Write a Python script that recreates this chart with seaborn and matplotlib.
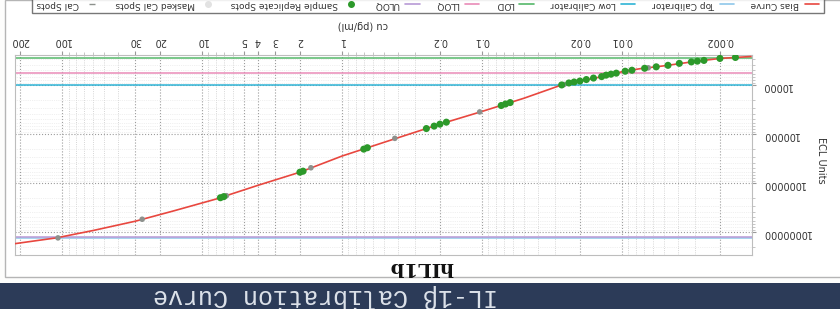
import matplotlib
matplotlib.use("Agg")
import matplotlib.pyplot as plt
from matplotlib.lines import Line2D
from matplotlib.patches import Rectangle
from matplotlib.ticker import FixedLocator, FixedFormatter, LogLocator, NullFormatter
import seaborn as sns
import pandas as pd

# fitted curve (conc pg/ml -> signal)
curve_conc = [0.0012, 0.002, 0.003, 0.005, 0.0075, 0.01, 0.015, 0.027, 0.05, 0.1, 0.2,
              0.4, 1.0, 2.0, 4.0, 8.0, 16, 30, 60, 110, 220]
curve_signal = [2630, 2880, 3310, 4070, 4680, 5370, 7080, 10000, 18600, 34700, 63100,
                120000, 282000, 603000, 1120000, 2140000, 3720000, 6030000, 9330000,
                13200000, 17400000]

# calibrator spots
cal_conc = [107, 26.8, 6.7, 1.67, 0.42, 0.104, 0.026, 0.0065]
cal_signal = [13200000, 5500000, 1820000, 490000, 123000, 35500, 9800, 4470]

# sample replicate spots
sample_conc = [0.00155, 0.002, 0.0026, 0.0029, 0.0032, 0.0039, 0.0047, 0.0057, 0.0069,
               0.0085, 0.0095, 0.011, 0.012, 0.013, 0.014, 0.016, 0.018, 0.020, 0.022,
               0.024, 0.027, 0.063, 0.068, 0.073, 0.18, 0.20, 0.22, 0.25, 0.66, 0.70,
               1.9, 2.0, 7.0, 7.4]
sample_signal = [2750, 2880, 3160, 3270, 3390, 3630, 3980, 4270, 4570, 5010, 5250, 5750,
                 6030, 6310, 6760, 7240, 7760, 8320, 8710, 9120, 10000, 22900, 24500,
                 26300, 57500, 63100, 69200, 77600, 191000, 204000, 575000, 603000,
                 1900000, 2000000]

# horizontal reference lines
ref_names = ["Top Calibrator", "Low Calibrator", "LOD", "LLOQ", "ULOQ"]
ref_values = [13300000, 9900, 2800, 5700, 12900000]
ref_colors = ["#8fc7ea", "#2fb4d6", "#55b86a", "#e98bb8", "#b89ad6"]

x_ticks = [0.002, 0.01, 0.02, 0.1, 0.2, 1, 2, 3, 4, 5, 10, 20, 30, 100, 200]
x_tick_labels = ["0.002", "0.01", "0.02", "0.1", "0.2", "1", "2", "3", "4", "5",
                 "10", "20", "30", "100", "200"]
y_ticks = [10000, 100000, 1000000, 10000000]
y_tick_labels = ["10000", "100000", "1000000", "10000000"]

sns.set_style("white")
plt.rcParams["font.family"] = ["DejaVu Sans"]

W, H = 840, 309
fig = plt.figure(figsize=(W / 100, H / 100), dpi=100, facecolor="#fdfdfc")

# outer panel + banner (picture is shown upside down)
fig.patches.append(Rectangle((5 / W, (H - 277) / H), 1, 277 / H, transform=fig.transFigure,
                             facecolor="#ffffff", edgecolor="#b5b5b5", lw=1.0, zorder=-5))
fig.patches.append(Rectangle((0, 0), 1, 26 / H, transform=fig.transFigure,
                             facecolor="#2c3b58", edgecolor="none", zorder=1))

ax = fig.add_axes([15 / W, 1 - 255 / H, (752 - 15) / W, (255 - 55) / H])
ax.set_zorder(2)
ax.set_xscale("log")
ax.set_yscale("log")

curve_df = pd.DataFrame({"conc": curve_conc, "signal": curve_signal})
cal_df = pd.DataFrame({"conc": cal_conc, "signal": cal_signal})
sample_df = pd.DataFrame({"conc": sample_conc, "signal": sample_signal})

for name, val, col in zip(ref_names, ref_values, ref_colors):
    ax.axhline(val, color=col, lw=1.1, zorder=2)

sns.lineplot(data=curve_df, x="conc", y="signal", color="#e8473f", lw=1.2, ax=ax,
             zorder=3, legend=False)
sns.scatterplot(data=cal_df, x="conc", y="signal", color="#8d918d", s=16, marker="o",
                edgecolor="none", ax=ax, zorder=4, legend=False)
sns.scatterplot(data=sample_df, x="conc", y="signal", color="#2c992a", s=26, marker="o",
                edgecolor="none", ax=ax, zorder=5, legend=False)

# upside-down axes
ax.set_xlim(217, 0.00118)
ax.set_ylim(2.95e7, 2450)
ax.xaxis.tick_top()
ax.yaxis.tick_right()
ax.xaxis.set_major_locator(FixedLocator(x_ticks))
ax.xaxis.set_major_formatter(FixedFormatter(x_tick_labels))
ax.xaxis.set_minor_locator(LogLocator(base=10, subs=range(2, 10), numticks=20))
ax.xaxis.set_minor_formatter(NullFormatter())
ax.yaxis.set_major_locator(FixedLocator(y_ticks))
ax.yaxis.set_major_formatter(FixedFormatter(y_tick_labels))
ax.yaxis.set_minor_locator(LogLocator(base=10, subs=range(2, 10), numticks=20))
ax.yaxis.set_minor_formatter(NullFormatter())
ax.tick_params(axis="both", which="major", labelsize=7, labelcolor="#333333",
               length=3, color="#999999", labelrotation=180)
ax.tick_params(axis="both", which="minor", length=2, color="#bbbbbb")
ax.tick_params(axis="y", pad=4)
for lab in ax.get_yticklabels():
    lab.set_ha("left")
ax.set_xlabel("")
ax.set_ylabel("")
ax.xaxis.grid(True, which="major", ls=":", color="#9c9c9c", lw=0.8)
ax.xaxis.grid(True, which="minor", ls=":", color="#c8c8c8", lw=0.6)
ax.yaxis.grid(True, which="major", ls=":", color="#9c9c9c", lw=0.8)
ax.yaxis.grid(True, which="minor", ls=":", color="#e2e2e2", lw=0.5)
for sp in ax.spines.values():
    sp.set_color("#bdbdbd")
    sp.set_linewidth(0.8)

fig.text(363 / W, 1 - 25 / H, "cu (pg/ml)", rotation=180, ha="center", va="center",
         fontsize=7, color="#333333")
fig.text(821 / W, 1 - 160 / H, "ECL Units", rotation=270, ha="center", va="center",
         fontsize=7, color="#333333")
fig.text(421 / W, 1 - 267 / H, "hIL1b", rotation=180, ha="center", va="center",
         fontsize=14, fontweight="bold", family="DejaVu Serif", color="#111111")
fig.text(325 / W, 1 - 296 / H, "IL-1β Calibration Curve", rotation=180, ha="center",
         va="center", fontsize=18, family="Liberation Mono", color="#dde2ea", zorder=5)

# legend (reversed order, markers after text because the chart is upside down)
handles = [
    Line2D([], [], color="#e8473f", lw=1.2, label="Bias Curve"),
    Line2D([], [], color=ref_colors[0], lw=1.2, label="Top Calibrator"),
    Line2D([], [], color=ref_colors[1], lw=1.2, label="Low Calibrator"),
    Line2D([], [], color=ref_colors[2], lw=1.2, label="LOD"),
    Line2D([], [], color=ref_colors[3], lw=1.2, label="LLOQ"),
    Line2D([], [], color=ref_colors[4], lw=1.2, label="ULOQ"),
    Line2D([], [], color="#2c992a", marker="o", ls="none", ms=4, label="Sample Replicate Spots"),
    Line2D([], [], color="#e2e2e2", marker="o", ls="none", ms=4, label="Masked Cal Spots"),
    Line2D([], [], color="#8d918d", marker="_", ls="none", ms=5, label="Cal Spots"),
]
leg = fig.legend(handles=handles[::-1], loc="lower center", bbox_to_anchor=(428 / W, 1 - 18 / H),
                 ncol=9, markerfirst=False, fontsize=6.5, frameon=True, fancybox=False,
                 edgecolor="#555555", handlelength=1.6, columnspacing=1.8, handletextpad=0.6,
                 borderpad=0.5)
leg.get_frame().set_linewidth(1.0)
for t in leg.get_texts():
    t.set_rotation(180)
    t.set_color("#333333")

fig.savefig("out.png", dpi=100, facecolor=fig.get_facecolor())
